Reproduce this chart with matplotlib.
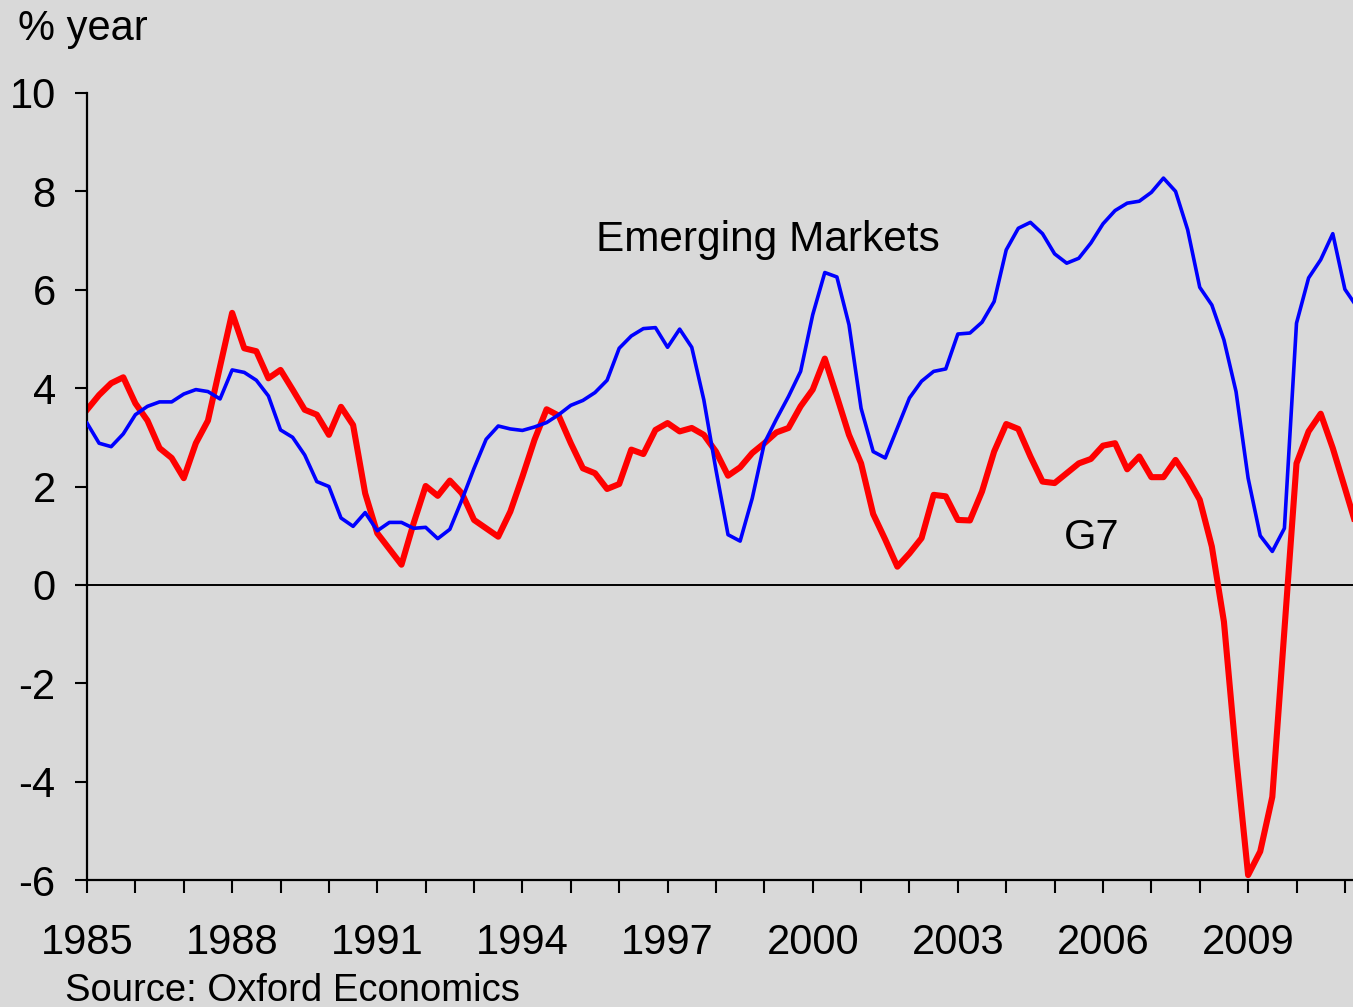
import numpy as np
import matplotlib
matplotlib.use("Agg")
import matplotlib.pyplot as plt
from matplotlib.ticker import MultipleLocator

plt.rcParams['font.family'] = ['Liberation Sans', 'DejaVu Sans']
plt.rcParams['axes.unicode_minus'] = False

# quarterly GDP growth, % year, from 1985 Q1
g7 = [3.56, 3.86, 4.10, 4.22,
      3.69, 3.34, 2.78, 2.58,
      2.17, 2.88, 3.34, 4.44,
      5.53, 4.81, 4.75, 4.20,
      4.37, 3.97, 3.56, 3.46,
      3.05, 3.62, 3.25, 1.86,
      1.05, 0.73, 0.41, 1.25,
      2.01, 1.81, 2.12, 1.86,
      1.32, 1.15, 0.98, 1.49,
      2.20, 2.95, 3.57, 3.44,
      2.88, 2.37, 2.27, 1.95,
      2.05, 2.75, 2.66, 3.15,
      3.29, 3.12, 3.19, 3.05,
      2.71, 2.22, 2.39, 2.68,
      2.88, 3.10, 3.19, 3.63,
      3.97, 4.60, 3.83, 3.05,
      2.47, 1.44, 0.92, 0.37,
      0.64, 0.95, 1.83, 1.80,
      1.32, 1.31, 1.90, 2.71,
      3.27, 3.17, 2.61, 2.10,
      2.07, 2.27, 2.47, 2.56,
      2.83, 2.88, 2.35, 2.61,
      2.19, 2.19, 2.54, 2.17,
      1.73, 0.78, -0.75, -3.47,
      -5.90, -5.42, -4.31, -0.92,
      2.47, 3.12, 3.48, 2.78,
      1.97, 1.15]

emerging = [3.29, 2.88, 2.81, 3.07,
            3.46, 3.63, 3.72, 3.72,
            3.88, 3.97, 3.93, 3.78,
            4.37, 4.32, 4.16, 3.84,
            3.15, 3.00, 2.64, 2.10,
            2.00, 1.36, 1.19, 1.47,
            1.10, 1.27, 1.27, 1.15,
            1.17, 0.94, 1.13, 1.73,
            2.37, 2.96, 3.23, 3.17,
            3.14, 3.21, 3.30, 3.46,
            3.65, 3.75, 3.91, 4.16,
            4.81, 5.06, 5.21, 5.23,
            4.83, 5.20, 4.83, 3.76,
            2.34, 1.02, 0.89, 1.76,
            2.88, 3.37, 3.83, 4.34,
            5.49, 6.35, 6.26, 5.29,
            3.59, 2.71, 2.58, 3.19,
            3.80, 4.14, 4.34, 4.39,
            5.10, 5.12, 5.34, 5.76,
            6.81, 7.25, 7.37, 7.14,
            6.73, 6.54, 6.64, 6.95,
            7.34, 7.61, 7.76, 7.80,
            7.98, 8.27, 8.00, 7.22,
            6.05, 5.69, 4.98, 3.93,
            2.17, 1.00, 0.68, 1.15,
            5.32, 6.24, 6.61, 7.14,
            6.01, 5.65]

year_labels = [1985, 1988, 1991, 1994, 1997, 2000, 2003, 2006, 2009]

t = 1985 + np.arange(len(g7)) / 4.0
bg = '#d9d9d9'

fig = plt.figure(figsize=(13.53, 10.07), dpi=100, facecolor=bg)
ax = fig.add_axes([87/1353, 127/1007, 1266/1353, 787/1007])
ax.set_facecolor(bg)

ax.axhline(0, color='black', lw=1.4, zorder=1)
ax.plot(t, emerging, color='#0000ff', lw=2.6, zorder=3)
ax.plot(t, g7, color='#ff0000', lw=4.4, zorder=2)

ax.set_xlim(1985, 1985 + 1266/48.38)
ax.set_ylim(-6, 10)

ax.set_xticks(year_labels)
ax.set_xticklabels([str(y) for y in year_labels])
ax.xaxis.set_minor_locator(MultipleLocator(1))
ax.yaxis.set_major_locator(MultipleLocator(2))

ax.tick_params(axis='x', which='both', direction='out', length=9, width=1.5,
               labelsize=30, pad=22)
ax.tick_params(axis='y', direction='out', length=9, width=1.5,
               labelsize=30, pad=13.5)

for s in ['top', 'right']:
    ax.spines[s].set_visible(False)
for s in ['left', 'bottom']:
    ax.spines[s].set_linewidth(1.6)

ax.text(1995.52, 7.02, 'Emerging Markets', fontsize=30.5, ha='left', va='center')
ax.text(2005.19, 0.96, 'G7', fontsize=30, ha='left', va='center')

fig.text(18/1353, 1 - 29/1007, '% year', fontsize=30, ha='left', va='center')
fig.text(65/1353, 1 - 991/1007, 'Source: Oxford Economics', fontsize=27.5,
         ha='left', va='center')

fig.savefig('out.png', dpi=100, facecolor=bg)
